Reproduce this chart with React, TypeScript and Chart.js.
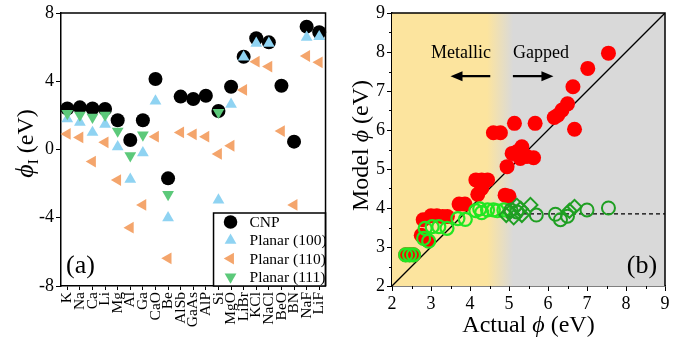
import React, { useEffect, useRef } from 'react';
import { Chart, registerables } from 'chart.js';
Chart.register(...registerables);

const FONT = "'Liberation Serif', 'Times New Roman', serif";

// ---------- Panel (a) data ----------
const materials = ['K', 'Na', 'Ca', 'Li', 'Mg', 'Al', 'Ga', 'CaO', 'Be', 'AlSb', 'GaAs', 'AlP', 'Si', 'MgO', 'LiBr', 'KCl', 'NaCl', 'BeO', 'BN', 'NaF', 'LiF'];
const cnpValues = [2.4, 2.47, 2.4, 2.37, 1.71, 0.56, 1.71, 4.13, -1.69, 3.1, 2.96, 3.15, 2.26, 3.68, 5.44, 6.52, 6.28, 3.74, 0.46, 7.2, 6.87];
const planar100Values = [1.79, 1.59, 1.0, 1.48, 0.16, -1.75, -0.19, 2.84, -4.0, null, null, null, -2.96, 2.65, 5.42, 6.22, 6.22, null, null, 6.57, 6.61];
const planar110Values = [0.91, 0.71, -0.71, 0.42, -1.79, -4.58, -3.25, 0.75, -6.38, 1.0, 0.89, 0.75, -0.26, 0.22, 3.49, 5.15, 4.86, 1.08, -3.25, 5.48, 5.11];
const planar111Values = [2.12, 2.02, 1.89, 2.02, 1.08, -0.36, 0.85, null, -2.63, null, null, null, 2.18, null, null, null, null, null, null, null, null];
const seriesNamesA = ['CNP', 'Planar (100)', 'Planar (110)', 'Planar (111)'];
const yTicksA = [-8, -4, 0, 4, 8];

// ---------- Panel (b) data ----------
const redActual = [2.35, 2.45, 2.55, 2.75, 2.9, 2.8, 3.0, 3.15, 3.3, 3.42, 3.72, 3.87, 4.15, 4.3, 4.45, 4.2, 4.3, 4.9, 5.0, 4.6, 4.78, 4.95, 5.08, 5.2, 5.29, 5.33, 5.46, 5.63, 5.14, 5.67, 6.16, 6.25, 6.36, 6.5, 6.68, 6.64, 7.02, 7.55];
const redModel = [2.8, 2.8, 2.8, 3.3, 3.18, 3.7, 3.8, 3.8, 3.78, 3.78, 4.1, 4.1, 4.72, 4.72, 4.72, 4.35, 4.5, 4.33, 4.3, 5.93, 5.93, 5.06, 5.4, 5.44, 5.27, 5.57, 5.32, 5.29, 6.17, 6.17, 6.32, 6.38, 6.51, 6.67, 6.02, 7.11, 7.58, 7.97];
const metallicActual = [2.35, 2.45, 2.55, 2.81, 2.94, 2.85, 3.03, 3.2, 3.41, 3.69, 3.88, 4.15, 4.25, 4.3, 4.45, 4.6, 4.7, 4.87];
const metallicModel = [2.8, 2.8, 2.8, 3.22, 3.15, 3.48, 3.52, 3.52, 3.48, 3.73, 3.71, 3.93, 3.98, 3.88, 3.95, 3.95, 3.93, 3.95];
const gappedActual = [5.05, 5.2, 5.7, 6.19, 6.32, 6.5, 7.0, 7.55];
const gappedModel = [3.95, 3.9, 3.82, 3.84, 3.7, 3.79, 3.95, 4.0];
const diamondActual = [4.93, 5.03, 5.12, 5.2, 5.3, 5.33, 5.55, 6.55, 6.68];
const diamondModel = [3.82, 3.9, 3.76, 4.06, 3.98, 3.82, 4.08, 3.93, 4.03];
const saturationLevel = [3.85];
const axisRangeB = [2, 9];

type Part = { text: string; font: string; dy: number };

function drawRich(ctx: CanvasRenderingContext2D, parts: Part[], cx: number, cy: number, rot: boolean) {
  ctx.save();
  ctx.translate(cx, cy);
  if (rot) ctx.rotate(-Math.PI / 2);
  let total = 0;
  const widths = parts.map((p) => {
    ctx.font = p.font;
    const w = ctx.measureText(p.text).width;
    total += w;
    return w;
  });
  let x = -total / 2;
  ctx.fillStyle = '#000';
  ctx.textBaseline = 'alphabetic';
  ctx.textAlign = 'left';
  parts.forEach((p, i) => {
    ctx.font = p.font;
    ctx.fillText(p.text, x, p.dy);
    x += widths[i];
  });
  ctx.restore();
}

function drawMarker(ctx: CanvasRenderingContext2D, style: string, x: number, y: number, r: number, color: string, rotationDeg: number) {
  ctx.save();
  ctx.fillStyle = color;
  ctx.beginPath();
  if (style === 'circle') {
    ctx.arc(x, y, r, 0, Math.PI * 2);
  } else {
    let rad = (rotationDeg * Math.PI) / 180;
    ctx.moveTo(x + Math.sin(rad) * r, y - Math.cos(rad) * r);
    rad += (2 * Math.PI) / 3;
    ctx.lineTo(x + Math.sin(rad) * r, y - Math.cos(rad) * r);
    rad += (2 * Math.PI) / 3;
    ctx.lineTo(x + Math.sin(rad) * r, y - Math.cos(rad) * r);
    ctx.closePath();
  }
  ctx.fill();
  ctx.restore();
}

const colorsA = ['#000000', '#8fd3f2', '#f4a56c', '#5cc97a'];
const stylesA = ['circle', 'triangle', 'triangle', 'triangle'];
const rotationsA = [0, 0, 270, 180];
const radiiA = [7, 6.8, 6.8, 6.8];

export default function App() {
  const refA = useRef<HTMLCanvasElement | null>(null);
  const refB = useRef<HTMLCanvasElement | null>(null);

  useEffect(() => {
    const panelAPlugin = {
      id: 'panelA',
      afterDatasetsDraw(chart: any) {
        const ctx = chart.ctx as CanvasRenderingContext2D;
        const a = chart.chartArea;
        const bx = a.right - 112;
        const by = a.bottom - 73;
        ctx.save();
        ctx.fillStyle = '#fff';
        ctx.fillRect(bx, by, a.right - bx, a.bottom - by);
        ctx.strokeStyle = '#000';
        ctx.lineWidth = 1.5;
        ctx.strokeRect(bx, by, a.right - bx, a.bottom - by);
        seriesNamesA.forEach((name, i) => {
          const yy = by + 9 + i * 18.3;
          drawMarker(ctx, stylesA[i], bx + 17, yy, 6.8, colorsA[i], rotationsA[i]);
          ctx.fillStyle = '#000';
          ctx.font = `15.5px ${FONT}`;
          ctx.textAlign = 'left';
          ctx.textBaseline = 'middle';
          ctx.fillText(name, bx + 36, yy + 1);
        });
        ctx.font = `26px ${FONT}`;
        ctx.textAlign = 'left';
        ctx.textBaseline = 'middle';
        ctx.fillText('(a)', a.left + 5, a.bottom - 20);
        ctx.restore();
      },
      afterDraw(chart: any) {
        const ctx = chart.ctx as CanvasRenderingContext2D;
        const a = chart.chartArea;
        ctx.save();
        ctx.strokeStyle = '#000';
        ctx.lineWidth = 1.5;
        ctx.beginPath();
        ctx.moveTo(a.left, a.top);
        ctx.lineTo(a.right, a.top);
        ctx.lineTo(a.right, a.bottom);
        ctx.stroke();
        ctx.restore();
        drawRich(
          ctx,
          [
            { text: 'ϕ', font: `italic 26px ${FONT}`, dy: 8 },
            { text: 'I', font: `15px ${FONT}`, dy: 13 },
            { text: ' (eV)', font: `24px ${FONT}`, dy: 8 },
          ],
          25,
          (a.top + a.bottom) / 2 - 6,
          true
        );
      },
    };

    const chartA = new Chart(refA.current as HTMLCanvasElement, {
      type: 'line',
      data: {
        labels: materials,
        datasets: [cnpValues, planar100Values, planar110Values, planar111Values].map((vals, i) => ({
          label: seriesNamesA[i],
          data: vals as any,
          showLine: false,
          pointStyle: stylesA[i] as any,
          pointRotation: rotationsA[i],
          pointRadius: radiiA[i],
          pointBackgroundColor: colorsA[i],
          pointBorderColor: colorsA[i],
          pointBorderWidth: 0,
          order: 4 - i,
        })),
      },
      options: {
        animation: false,
        responsive: false,
        layout: { padding: { top: 13, right: 6, left: 0, bottom: 0 } },
        plugins: { legend: { display: false }, tooltip: { enabled: false } },
        scales: {
          x: {
            type: 'category',
            offset: true,
            grid: { drawOnChartArea: false, drawTicks: true, tickLength: 4, color: '#000' },
            border: { color: '#000', width: 1.5 },
            ticks: { color: '#000', font: { family: FONT, size: 15.5 }, minRotation: 90, maxRotation: 90, padding: 2, autoSkip: false },
            afterFit: (s: any) => {
              s.height = 55;
            },
          },
          y: {
            min: yTicksA[0],
            max: yTicksA[yTicksA.length - 1],
            afterBuildTicks: (s: any) => {
              s.ticks = yTicksA.map((v) => ({ value: v }));
            },
            grid: { drawOnChartArea: false, drawTicks: true, tickLength: 5, color: '#000' },
            border: { color: '#000', width: 1.5 },
            ticks: { color: '#000', font: { family: FONT, size: 18 }, padding: 2 },
            afterFit: (s: any) => {
              s.width = 61;
            },
          },
        },
      } as any,
      plugins: [panelAPlugin],
    });

    const yellow = '#fce49e';
    const gray = '#d9d9d9';

    const panelBPlugin = {
      id: 'panelB',
      beforeDatasetsDraw(chart: any) {
        const ctx = chart.ctx as CanvasRenderingContext2D;
        const a = chart.chartArea;
        const xs = chart.scales.x;
        const g = ctx.createLinearGradient(xs.getPixelForValue(4.44), 0, xs.getPixelForValue(5.11), 0);
        g.addColorStop(0, yellow);
        g.addColorStop(1, gray);
        ctx.save();
        ctx.fillStyle = g;
        ctx.fillRect(a.left, a.top, a.right - a.left, a.bottom - a.top);
        ctx.restore();
      },
      afterDatasetsDraw(chart: any) {
        const ctx = chart.ctx as CanvasRenderingContext2D;
        const xs = chart.scales.x;
        const ys = chart.scales.y;
        ctx.save();
        ctx.fillStyle = '#000';
        ctx.font = `18px ${FONT}`;
        ctx.textAlign = 'center';
        ctx.textBaseline = 'middle';
        ctx.fillText('Metallic', xs.getPixelForValue(3.77), ys.getPixelForValue(7.97));
        ctx.fillText('Gapped', xs.getPixelForValue(5.82), ys.getPixelForValue(7.97));
        const ay = ys.getPixelForValue(7.38);
        const arrow = (x0: number, x1: number) => {
          const dir = Math.sign(x1 - x0);
          ctx.strokeStyle = '#000';
          ctx.lineWidth = 2.2;
          ctx.beginPath();
          ctx.moveTo(x0, ay);
          ctx.lineTo(x1 - dir * 8, ay);
          ctx.stroke();
          ctx.beginPath();
          ctx.moveTo(x1, ay);
          ctx.lineTo(x1 - dir * 12, ay - 5);
          ctx.lineTo(x1 - dir * 12, ay + 5);
          ctx.closePath();
          ctx.fill();
        };
        arrow(xs.getPixelForValue(4.52), xs.getPixelForValue(3.5));
        arrow(xs.getPixelForValue(5.1), xs.getPixelForValue(6.14));
        ctx.font = `26px ${FONT}`;
        ctx.fillText('(b)', xs.getPixelForValue(8.41), ys.getPixelForValue(2.5));
        ctx.restore();
      },
      afterDraw(chart: any) {
        const ctx = chart.ctx as CanvasRenderingContext2D;
        const a = chart.chartArea;
        const xs = chart.scales.x;
        const ys = chart.scales.y;
        ctx.save();
        ctx.strokeStyle = '#000';
        ctx.lineWidth = 1.5;
        ctx.beginPath();
        ctx.moveTo(a.left, a.top);
        ctx.lineTo(a.right, a.top);
        ctx.lineTo(a.right, a.bottom);
        ctx.stroke();
        ctx.lineWidth = 1;
        ctx.beginPath();
        for (let v = axisRangeB[0] + 0.5; v < axisRangeB[1]; v += 1) {
          const px = Math.round(xs.getPixelForValue(v)) + 0.5;
          ctx.moveTo(px, a.bottom);
          ctx.lineTo(px, a.bottom + 3);
          const py = Math.round(ys.getPixelForValue(v)) + 0.5;
          ctx.moveTo(a.left, py);
          ctx.lineTo(a.left - 3, py);
        }
        ctx.stroke();
        ctx.restore();
        drawRich(
          ctx,
          [
            { text: 'Model ', font: `24px ${FONT}`, dy: 8 },
            { text: 'ϕ', font: `italic 24px ${FONT}`, dy: 8 },
            { text: ' (eV)', font: `24px ${FONT}`, dy: 8 },
          ],
          20,
          (a.top + a.bottom) / 2 - 4,
          true
        );
        drawRich(
          ctx,
          [
            { text: 'Actual ', font: `24px ${FONT}`, dy: 8 },
            { text: 'ϕ', font: `italic 24px ${FONT}`, dy: 8 },
            { text: ' (eV)', font: `24px ${FONT}`, dy: 8 },
          ],
          (a.left + a.right) / 2,
          324,
          false
        );
      },
    };

    const toPts = (xs: number[], ys: number[]) => xs.map((x, i) => ({ x, y: ys[i] }));

    const chartB = new Chart(refB.current as HTMLCanvasElement, {
      type: 'scatter',
      data: {
        datasets: [
          {
            type: 'line',
            label: 'y=x',
            data: [
              { x: axisRangeB[0], y: axisRangeB[0] },
              { x: axisRangeB[1], y: axisRangeB[1] },
            ],
            borderColor: '#000',
            borderWidth: 1.3,
            pointRadius: 0,
            order: 10,
          },
          {
            type: 'line',
            label: 'saturation',
            data: [
              { x: 5, y: saturationLevel[0] },
              { x: axisRangeB[1], y: saturationLevel[0] },
            ],
            borderColor: '#000',
            borderWidth: 1.3,
            borderDash: [4, 3],
            pointRadius: 0,
            order: 9,
          },
          {
            label: 'model',
            data: toPts(redActual, redModel),
            pointStyle: 'circle',
            pointRadius: 7.5,
            pointBackgroundColor: '#ff0000',
            pointBorderColor: '#ff0000',
            pointBorderWidth: 0,
            order: 5,
          },
          {
            label: 'metallic',
            data: toPts(metallicActual, metallicModel),
            pointStyle: 'circle',
            pointRadius: 6.5,
            pointBackgroundColor: 'rgba(0,0,0,0)',
            pointBorderColor: '#22e622',
            pointBorderWidth: 2.2,
            order: 4,
          },
          {
            label: 'gapped',
            data: toPts(gappedActual, gappedModel),
            pointStyle: 'circle',
            pointRadius: 6.5,
            pointBackgroundColor: 'rgba(0,0,0,0)',
            pointBorderColor: '#1f9f22',
            pointBorderWidth: 2,
            order: 3,
          },
          {
            label: 'gapped diamond',
            data: toPts(diamondActual, diamondModel),
            pointStyle: 'rectRot',
            pointRadius: 7,
            pointBackgroundColor: 'rgba(0,0,0,0)',
            pointBorderColor: '#1f9f22',
            pointBorderWidth: 2,
            order: 2,
          },
        ],
      },
      options: {
        animation: false,
        responsive: false,
        layout: { padding: { top: 13, right: 20, left: 0, bottom: 0 } },
        plugins: { legend: { display: false }, tooltip: { enabled: false } },
        scales: {
          x: {
            type: 'linear',
            min: axisRangeB[0],
            max: axisRangeB[1],
            ticks: { stepSize: 1, color: '#000', font: { family: FONT, size: 18 }, padding: 2 },
            grid: { drawOnChartArea: false, drawTicks: true, tickLength: 5, color: '#000' },
            border: { color: '#000', width: 1.5 },
            afterFit: (s: any) => {
              s.height = 55;
            },
          },
          y: {
            type: 'linear',
            min: axisRangeB[0],
            max: axisRangeB[1],
            ticks: { stepSize: 1, color: '#000', font: { family: FONT, size: 18 }, padding: 2 },
            grid: { drawOnChartArea: false, drawTicks: true, tickLength: 5, color: '#000' },
            border: { color: '#000', width: 1.5 },
            afterFit: (s: any) => {
              s.width = 52;
            },
          },
        },
      } as any,
      plugins: [panelBPlugin],
    });

    return () => {
      chartA.destroy();
      chartB.destroy();
    };
  }, []);

  return (
    <div style={{ position: 'absolute', left: 0, top: 0, width: 685, height: 341, background: '#fff' }}>
      <canvas ref={refA} width={340} height={341} style={{ position: 'absolute', left: 0, top: 0, width: 340, height: 341 }} />
      <canvas ref={refB} width={345} height={341} style={{ position: 'absolute', left: 340, top: 0, width: 345, height: 341 }} />
    </div>
  );
}
